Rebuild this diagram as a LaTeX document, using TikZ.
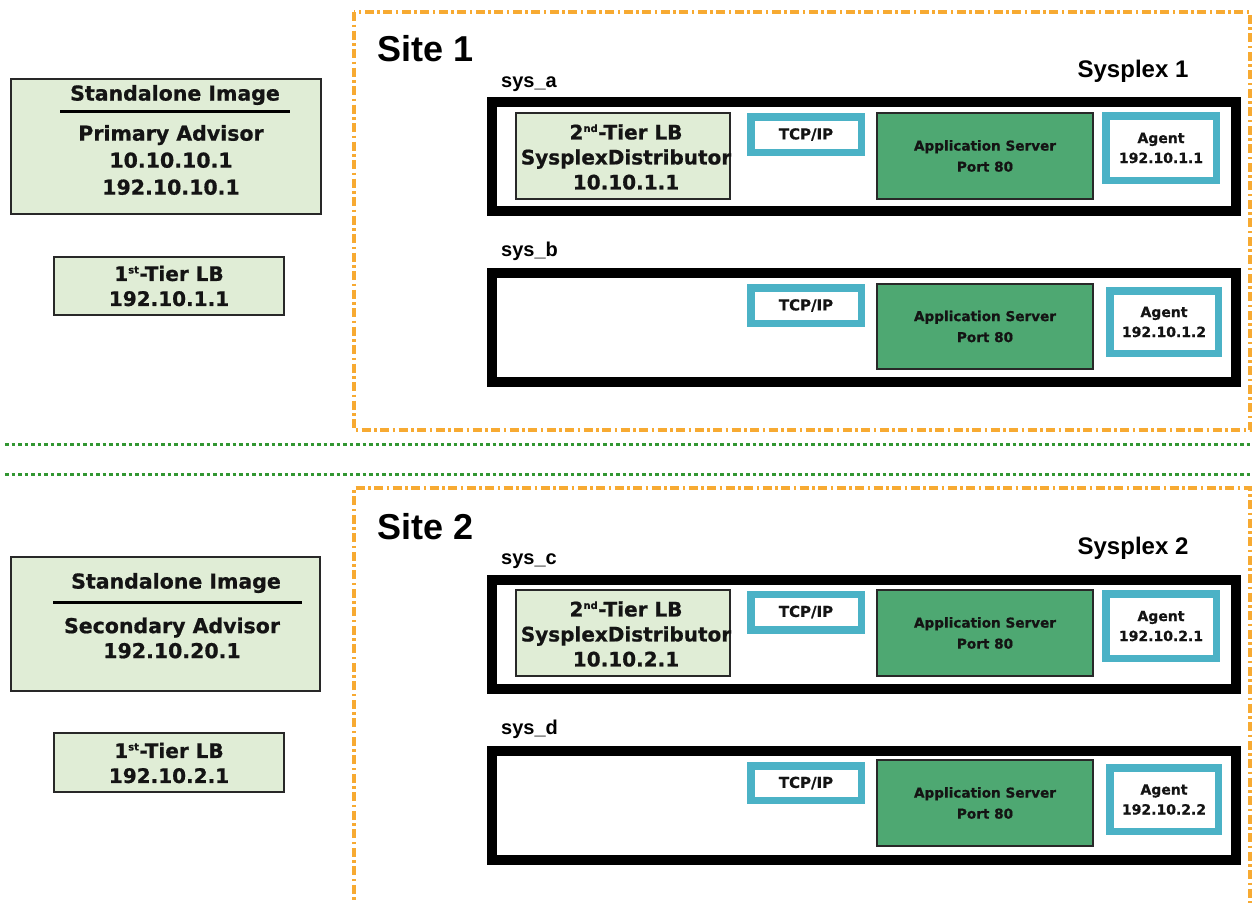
\documentclass[tikz,border=0pt]{standalone}
\usepackage{fontspec}
\newfontfamily\dvs{DejaVu Sans}[BoldFeatures={FakeBold=0.8}]
\newfontfamily\lsans{Liberation Sans}
\definecolor{lgreen}{RGB}{224,237,214}
\definecolor{appgreen}{RGB}{78,168,114}
\definecolor{aqua}{RGB}{75,178,198}
\definecolor{siteorange}{RGB}{247,170,50}
\definecolor{sepgreen}{RGB}{50,150,50}
\definecolor{edge}{RGB}{40,40,40}
\definecolor{ink}{RGB}{20,20,20}
\newcommand{\supsm}[1]{\textsuperscript{\fontsize{10}{10}\selectfont #1}}
\begin{document}
\begin{tikzpicture}[x=1pt,y=-1pt,
  lgbox/.style={draw=edge, line width=1.2pt, fill=lgreen, inner sep=0pt},
  sysbox/.style={draw=black, line width=10pt, fill=white, inner sep=0pt, minimum width=744pt, minimum height=109pt},
  aquabox/.style={draw=aqua, line width=7.5pt, fill=white, inner sep=0pt, align=center, text=ink,
    font=\dvs\bfseries\fontsize{14}{20}\selectfont},
  tcpbox/.style={aquabox, minimum width=110.5pt, minimum height=35.5pt, font=\dvs\bfseries\fontsize{15}{20}\selectfont},
  appbox/.style={draw=edge, line width=1.2pt, fill=appgreen, inner sep=0pt, align=center, text=ink,
    minimum width=216pt, minimum height=86pt, font=\dvs\bfseries\fontsize{13.6}{21}\selectfont},
  lbtwo/.style={lgbox, minimum width=214pt, minimum height=86pt},
  bigtxt/.style={inner sep=0pt, align=center, text=ink, font=\dvs\bfseries\fontsize{20.5}{27}\selectfont},
  lbtxt/.style={inner sep=0pt, align=center, text=ink, font=\dvs\bfseries\fontsize{20}{25}\selectfont},
  sitebox/.style={draw=siteorange, line width=3.5pt, dash pattern=on 9pt off 3.5pt on 2.5pt off 3.5pt},
  sepline/.style={draw=sepgreen, line width=3pt, dash pattern=on 3.5pt off 3pt},
  sitelbl/.style={inner sep=0pt, anchor=west, text=black, font=\lsans\bfseries\fontsize{36}{40}\selectfont},
  plexlbl/.style={inner sep=0pt, text=black, font=\lsans\bfseries\fontsize{24}{28}\selectfont},
  syslbl/.style={inner sep=0pt, anchor=base west, text=black, font=\lsans\bfseries\fontsize{20}{24}\selectfont},
  rulestyle/.style={draw=black, line width=3pt}
]
\useasboundingbox (0,0) rectangle (1252,902);

% site frames
\draw[sitebox] (354,12) rectangle (1250,430);
\draw[sitebox] (354,912) -- (354,488) -- (1250,488) -- (1250,912);

% separators
\coordinate (s1l) at (5,444); \coordinate (s1r) at (1250,444);
\coordinate (s2l) at (5,474); \coordinate (s2r) at (1250,474);
\draw[sepline] (s1l) -- (s1r);
\draw[sepline] (s2l) -- (s2r);

% site labels
\node[sitelbl] (site1) at (377,49) {Site 1};
\node[sitelbl] (site2) at (377,527) {Site 2};
\node[plexlbl] (plex1) at (1133,71) {Sysplex 1};
\node[plexlbl] (plex2) at (1133,548) {Sysplex 2};

% left column, site 1
\node[lgbox, minimum width=310pt, minimum height=135pt] (prim) at (166,146.5) {};
\node[bigtxt] (primsi) at (175,95) {Standalone Image};
\draw[rulestyle] (60,111) -- (290,111);
\node[bigtxt] (primtxt) at (171,160) {Primary Advisor\\10.10.10.1\\192.10.10.1};
\node[lgbox, minimum width=230pt, minimum height=58pt] (lb1a) at (169,286) {};
\node[lbtxt] (lb1atxt) at (169,286) {1\supsm{st}-Tier LB\\192.10.1.1};

% left column, site 2
\node[lgbox, minimum width=309pt, minimum height=134pt] (sec) at (165.5,624) {};
\node[bigtxt] (secsi) at (176,583) {Standalone Image};
\draw[rulestyle] (53,602) -- (302,602);
\node[bigtxt] (sectxt) at (172,638) {Secondary Advisor\\[-2pt]192.10.20.1};
\node[lgbox, minimum width=230pt, minimum height=59pt] (lb1b) at (169,762.5) {};
\node[lbtxt] (lb1btxt) at (169,763) {1\supsm{st}-Tier LB\\192.10.2.1};

% sysplex system boxes
\node[sysbox] (sysa) at (864,156.5) {};
\node[sysbox] (sysb) at (864,327.5) {};
\node[sysbox] (sysc) at (864,634.5) {};
\node[sysbox] (sysd) at (864,805) {};
\node[syslbl] (lsysa) at (501,87) {sys\_a};
\node[syslbl] (lsysb) at (501,256) {sys\_b};
\node[syslbl] (lsysc) at (501,564) {sys\_c};
\node[syslbl] (lsysd) at (501,734) {sys\_d};

% sys_a
\node[lbtwo] (lb2a) at (623,156) {};
\node[lbtxt] (lb2atxt) at (626,157) {2\supsm{nd}-Tier LB\\SysplexDistributor\\10.10.1.1};
\node[tcpbox] (tcpa) at (806,134.5) {TCP/IP};
\node[appbox] (appa) at (985,156) {Application Server\\Port 80};
\node[aquabox, minimum width=110.5pt, minimum height=64.5pt] (agta) at (1161,148) {Agent\\192.10.1.1};

% sys_b
\node[tcpbox] (tcpb) at (806,305.5) {TCP/IP};
\node[appbox, minimum height=85pt] (appb) at (985,326.5) {Application Server\\Port 80};
\node[aquabox, minimum width=108.5pt, minimum height=62.5pt] (agtb) at (1164,322) {Agent\\192.10.1.2};

% sys_c
\node[lbtwo] (lb2c) at (623,633) {};
\node[lbtxt] (lb2ctxt) at (626,634) {2\supsm{nd}-Tier LB\\SysplexDistributor\\10.10.2.1};
\node[tcpbox] (tcpc) at (806,612) {TCP/IP};
\node[appbox] (appc) at (985,633) {Application Server\\Port 80};
\node[aquabox, minimum width=110.5pt, minimum height=64.5pt] (agtc) at (1161,626) {Agent\\192.10.2.1};

% sys_d
\node[tcpbox, minimum height=34.5pt] (tcpd) at (806,783) {TCP/IP};
\node[appbox] (appd) at (985,803) {Application Server\\Port 80};
\node[aquabox, minimum width=108.5pt, minimum height=63.5pt] (agtd) at (1164,799.5) {Agent\\192.10.2.2};
\end{tikzpicture}
\end{document}
